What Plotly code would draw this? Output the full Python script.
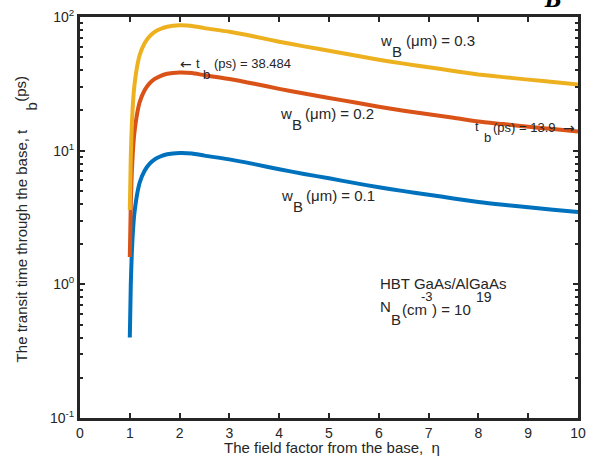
import plotly.graph_objects as go

eta = [1.00, 1.02, 1.04, 1.06, 1.08, 1.10, 1.15, 1.20, 1.30, 1.40, 1.50, 1.60, 1.75,
       2.00, 2.25, 2.50, 3.00, 3.50, 4.00, 4.50, 5.00, 5.50, 6.00, 6.50, 7.00, 7.50,
       8.00, 8.50, 9.00, 9.50, 10.0]
tb_w01 = [0.40, 1.00, 1.70, 2.40, 3.05, 3.60, 4.80, 5.80, 7.10, 8.00, 8.60, 9.00, 9.40,
          9.62, 9.53, 9.18, 8.61, 7.93, 7.26, 6.70, 6.21, 5.74, 5.32, 4.98, 4.68, 4.39,
          4.13, 3.94, 3.78, 3.62, 3.475]
tb_w02 = [1.6, 4.0, 6.8, 9.6, 12.2, 14.4, 19.2, 23.2, 28.4, 32.0, 34.4, 36.0, 37.6,
          38.484, 38.1, 36.7, 34.4, 31.7, 29.0, 26.8, 24.8, 23.0, 21.3, 19.9, 18.7, 17.6,
          16.5, 15.8, 15.1, 14.5, 13.9]
tb_w03 = [3.6, 9.0, 15.3, 21.6, 27.5, 32.4, 43.2, 52.2, 63.9, 72.0, 77.4, 81.0, 84.6,
          86.6, 85.8, 82.6, 77.5, 71.4, 65.3, 60.3, 55.9, 51.7, 47.9, 44.8, 42.1, 39.5,
          37.2, 35.5, 34.0, 32.6, 31.3]

x_ticks = list(range(0, 11))
y_tickvals = [0.1, 1, 10, 100]
y_ticktext = ["10<sup>-1</sup>", "10<sup>0</sup>", "10<sup>1</sup>", "10<sup>2</sup>"]
y_minor = [k * d for d in (0.1, 1, 10) for k in range(2, 10)]

FONT = "Liberation Sans, Arial, sans-serif"
TXT = "#262626"
W, H = 593, 456
L, R, T, B = 80, 7, 16, 38
PW, PH = W - L - R, H - T - B

fig = go.Figure()
for y, col in [(tb_w01, "#0072BD"), (tb_w02, "#D95319"), (tb_w03, "#EDB120")]:
    fig.add_trace(go.Scatter(x=eta, y=y, mode="lines",
                             line=dict(color=col, width=4, shape="spline", smoothing=0.6),
                             showlegend=False, hoverinfo="skip"))


def txt(s, px, py, size=15, xanchor="left", angle=0, family=FONT, color=TXT):
    fig.add_annotation(text=s, xref="paper", yref="paper",
                       x=(px - L) / PW, y=(H - B - py) / PH,
                       showarrow=False, xanchor=xanchor, yanchor="middle",
                       textangle=angle, borderpad=0,
                       font=dict(family=family, size=size, color=color))


def wlabel(value, x0, ymain):
    txt("w", x0, ymain)
    txt("B", x0 + 12, ymain + 11)
    txt("(μm) = " + value, x0 + 26, ymain)


wlabel("0.3", 384, 40)
wlabel("0.2", 282, 113)
wlabel("0.1", 283, 195)

ARROW_FONT = "DejaVu Sans, sans-serif"
# peak annotation
txt("←", 181, 63, size=14, family=ARROW_FONT)
txt("t", 197, 63, size=13)
txt("b", 204, 74, size=13)
txt("(ps) = 38.484", 215, 63, size=13)
# end annotation
txt("t", 480, 126, size=13)
txt("b", 489, 137, size=13)
txt("(ps) = 13.9", 499, 127, size=13)
txt("→", 584, 127, size=14, xanchor="right", family=ARROW_FONT)

# material info
txt("HBT GaAs/AlGaAs", 384, 283)
txt("N", 384, 306)
txt("B", 395, 319)
txt("(cm", 406, 309)
txt("-3", 425, 296, size=13)
txt(") = 10", 437, 309)
txt("19", 481, 297, size=14)

# y-axis title (rotated, pieces)
txt("The transit time through the base, t", 20, 245, angle=-90, xanchor="center")
txt("b", 31, 106, angle=-90, xanchor="center")
txt("(ps)", 20, 88, angle=-90, xanchor="center")
# x-axis title
txt("The field factor from the base,  η", 336, 448, xanchor="center")
# clipped fragment at top right
txt("<b><i>B</i></b>", 561, -1, size=20, xanchor="center",
    family="DejaVu Serif, serif", color="#000000")

fig.update_xaxes(range=[0, 10], tickvals=x_ticks, ticks="inside", ticklen=5, tickwidth=2,
                 tickcolor="#262626", showline=True, linewidth=3, linecolor="#262626",
                 mirror="ticks", showgrid=False, zeroline=False,
                 tickfont=dict(family=FONT, size=14, color=TXT))
fig.update_yaxes(type="log", range=[-1, 2], tickvals=y_tickvals, ticktext=y_ticktext,
                 ticks="inside", ticklen=5, tickwidth=2, tickcolor="#262626",
                 showline=True, linewidth=3, linecolor="#262626", mirror="ticks",
                 showgrid=False, zeroline=False,
                 minor=dict(tickvals=y_minor, ticks="inside", ticklen=3, tickwidth=1.5,
                            tickcolor="#262626", showgrid=False),
                 tickfont=dict(family=FONT, size=14, color=TXT))

fig.update_layout(width=W, height=H, margin=dict(l=L, r=R, t=T, b=B),
                  plot_bgcolor="white", paper_bgcolor="white",
                  font=dict(family=FONT, color=TXT))
fig.write_html("out.html")
